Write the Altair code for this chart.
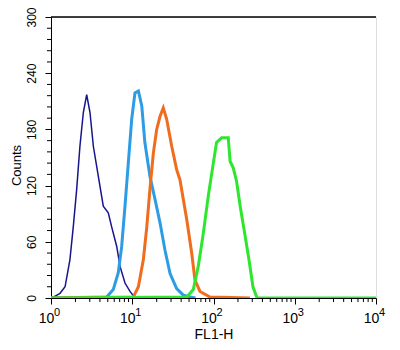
import altair as alt
import pandas as pd

# FL1-H values and counts
navy_x = [1.0, 1.07, 1.29, 1.49, 1.71, 1.88, 2.07, 2.27, 2.50, 2.75, 3.02, 3.32, 3.82, 4.40, 5.07, 5.58, 6.44, 7.06, 8.14, 9.38, 10.2, 11.5]
navy_y = [0, 1, 5, 12, 41, 76, 116, 162, 198, 217, 198, 162, 130, 98, 91, 76, 55, 34, 16, 7, 3, 0]

blue_x = [1.0, 4.85, 5.84, 6.73, 7.41, 8.14, 8.94, 9.85, 10.8, 11.9, 13.1, 14.3, 16.5, 19.1, 22.0, 25.3, 29.2, 35.2, 42.5, 51.4, 60.0]
blue_y = [0, 1, 9, 27, 55, 98, 144, 191, 219, 221, 205, 166, 130, 105, 80, 51, 26, 10, 3, 1, 0]

orange_x = [1.0, 10.3, 11.9, 13.7, 15.1, 16.5, 18.2, 20.0, 22.0, 24.1, 26.5, 30.6, 35.2, 38.7, 46.8, 53.9, 59.2, 68.2, 90.6, 281.0]
orange_y = [0, 1, 12, 41, 76, 116, 155, 180, 194, 203, 191, 162, 137, 126, 84, 48, 19, 7, 1, 0]

green_x = [1.0, 46.8, 56.4, 65.0, 74.9, 86.3, 99.5, 109, 126, 152, 160, 175, 192, 213, 242, 273, 306, 340, 355, 10000]
green_y = [0, 1, 9, 34, 69, 109, 144, 166, 171, 171, 146, 139, 125, 98, 69, 41, 12, 1, 0, 0]

series = ["navy", "blue", "orange", "green"]
colors = ["#16168c", "#2c9de4", "#f06c1e", "#2ee62e"]
widths = [1.5, 3, 3, 3]

x_major = [1, 10, 100, 1000, 10000]
x_bases = ["10", "10", "10", "10", "10"]
x_exponents = ["0", "1", "2", "3", "4"]
x_minor = [m * 10 ** e for e in range(4) for m in range(2, 10)]
y_major = [0, 60, 120, 180, 240, 300]
y_minor = [v for v in range(0, 301, 12) if v % 60 != 0]

frames = []
for name, xs, ys in [("navy", navy_x, navy_y), ("blue", blue_x, blue_y),
                     ("orange", orange_x, orange_y), ("green", green_x, green_y)]:
    frames.append(pd.DataFrame({"x": xs, "y": ys, "s": name}))

font = "Liberation Sans"
xscale = alt.Scale(type="log", domain=[1, 10000])
yscale = alt.Scale(domain=[0, 300], nice=False)

x_enc = alt.X("x:Q", scale=xscale,
              axis=alt.Axis(values=x_major, title="FL1-H", labels=False,
                            tickSize=6, grid=False, domainColor="black", tickColor="black",
                            titleFontSize=14, titleFontWeight="normal",
                            titleFont=font, titleColor="black",
                            titleY=40, titleBaseline="alphabetic"))
y_enc = alt.Y("y:Q", scale=yscale,
              axis=alt.Axis(values=y_major, title="Counts",
                            tickSize=6, grid=False, domainColor="black", tickColor="black",
                            labelAngle=270, labelAlign="center", labelBaseline="alphabetic",
                            labelFontSize=12, titleFontSize=13, titleFontWeight="normal",
                            labelFont=font, titleFont=font, labelColor="black", titleColor="black",
                            labelPadding=10, labelFlush=False, labelOverlap=False,
                            titleX=-31, titleY=148, titleBaseline="alphabetic"))

layers = []
for name, col, w, df in zip(series, colors, widths, frames):
    layers.append(alt.Chart(df).mark_line(color=col, strokeWidth=w, interpolate="linear", clip=True)
                  .encode(x=x_enc, y=y_enc))

# minor ticks (axis decoration)
ymin_df = pd.DataFrame({"y": y_minor})
xmin_df = pd.DataFrame({"x": x_minor})
ytick_layer = alt.Chart(ymin_df).mark_rule(color="black", strokeWidth=1).encode(
    y=y_enc, x=alt.value(-4), x2=alt.value(0))
xtick_layer = alt.Chart(xmin_df).mark_rule(color="black", strokeWidth=1).encode(
    x=x_enc, y=alt.value(281), y2=alt.value(285))

# x tick labels: base "10" with superscript exponent
lab_df = pd.DataFrame({"x": x_major, "b": x_bases, "e": x_exponents})
base_layer = alt.Chart(lab_df).mark_text(font=font, fontSize=14, color="black", align="center",
                                         baseline="alphabetic", dx=-4.5).encode(
    x=x_enc, y=alt.value(306), text="b:N")
exp_layer = alt.Chart(lab_df).mark_text(font=font, fontSize=11, color="black", align="left",
                                        baseline="alphabetic", dx=3).encode(
    x=x_enc, y=alt.value(299), text="e:N")

top = alt.Chart(pd.DataFrame({"y": [300]})).mark_rule(color="black", strokeWidth=1.5).encode(y=y_enc)

chart = alt.layer(*layers, ytick_layer, xtick_layer, base_layer, exp_layer, top).properties(
    width=325, height=281,
    autosize=alt.AutoSizeParams(type="none"),
    padding={"left": 43, "top": 9, "right": 16, "bottom": 44}
).configure_view(stroke="#888888", strokeWidth=1.5).configure(background="white")

chart.save("out.html", embed_options={"renderer": "svg", "actions": False})
